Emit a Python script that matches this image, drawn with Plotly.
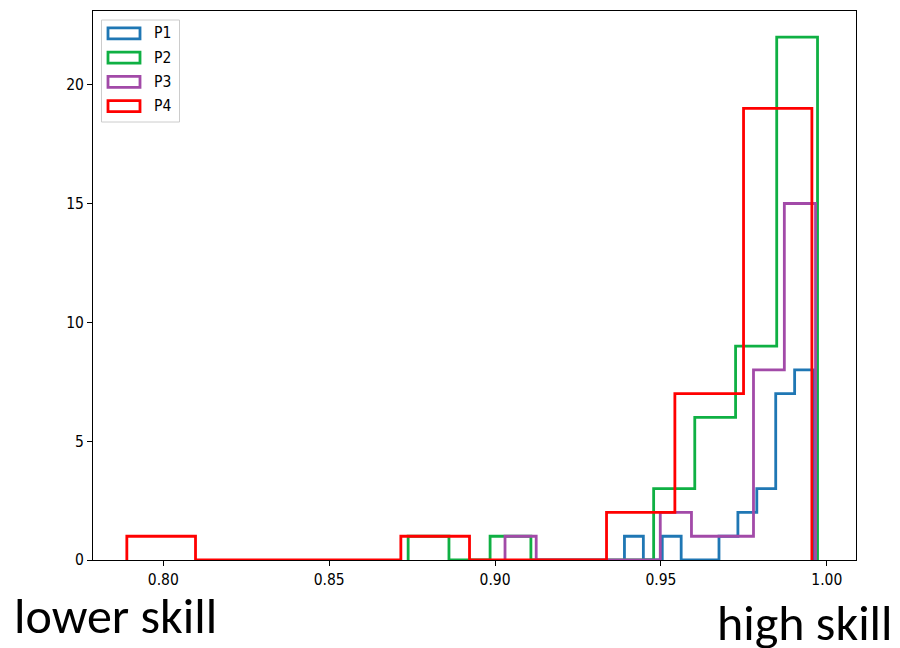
import numpy as np
import plotly.graph_objects as go

# bin edges and counts (10 bins each)
p1_edges = [0.9390, 0.9447, 0.9504, 0.9561, 0.9618, 0.9675, 0.9732, 0.9789, 0.9846, 0.9903, 0.9960]
p1_counts = [1, 0, 1, 0, 0, 1, 2, 3, 7, 8]

p2_edges = [0.8738, 0.8861, 0.8985, 0.9108, 0.9232, 0.9355, 0.9478, 0.9602, 0.9725, 0.9849, 0.9972]
p2_counts = [1, 0, 1, 0, 0, 0, 3, 6, 9, 22]

p3_edges = [0.9030, 0.9124, 0.9217, 0.9311, 0.9404, 0.9498, 0.9592, 0.9685, 0.9779, 0.9872, 0.9966]
p3_counts = [1, 0, 0, 0, 0, 2, 1, 1, 8, 15]

p4_edges = [0.7890, 0.8097, 0.8303, 0.8510, 0.8716, 0.8923, 0.9129, 0.9336, 0.9542, 0.9749, 0.9955]
p4_counts = [1, 0, 0, 0, 1, 0, 0, 2, 7, 19]

names = ["P1", "P2", "P3", "P4"]
colors = ["#1f77b4", "#0fb043", "#a24aa8", "#ff0000"]
x_ticks = [0.80, 0.85, 0.90, 0.95, 1.00]
y_ticks = [0, 5, 10, 15, 20]

W, H = 900, 648
L, R, T, B = 93, 44, 11, 88
TICK_FONT = dict(family="DejaVu Sans Condensed, DejaVu Sans", size=15.5, color="black")
SKILL_FONT = dict(family="Carlito, Lato, sans-serif", size=50, color="black")


def px_x(px):
    return (px - L) / (W - L - R)


def px_y(py):
    return (H - B - py) / (H - T - B)


def step_outline(edges, counts):
    xs = np.repeat(edges, 2)
    ys = np.concatenate([[0], np.repeat(counts, 2), [0]])
    return xs, ys


fig = go.Figure()
for name, color, edges, counts in zip(
    names, colors,
    [p1_edges, p2_edges, p3_edges, p4_edges],
    [p1_counts, p2_counts, p3_counts, p4_counts],
):
    xs, ys = step_outline(edges, counts)
    fig.add_trace(
        go.Scatter(x=xs, y=ys, name=name, mode="lines", showlegend=False,
                   line=dict(color=color, width=2.8))
    )

# matplotlib-style legend with outlined patches
fig.add_shape(type="rect", xref="paper", yref="paper",
              x0=px_x(101.5), x1=px_x(179.5), y0=px_y(122), y1=px_y(20),
              line=dict(color="#cccccc", width=1), fillcolor="rgba(255,255,255,0.8)")
for i, (name, color) in enumerate(zip(names, colors)):
    cy = 33.3 + i * 24.3
    fig.add_shape(type="rect", xref="paper", yref="paper",
                  x0=px_x(108), x1=px_x(140), y0=px_y(cy + 5.5), y1=px_y(cy - 5.5),
                  line=dict(color=color, width=2.8), fillcolor="rgba(0,0,0,0)")
    fig.add_annotation(text=name, xref="paper", yref="paper", x=px_x(152), y=px_y(cy),
                       xanchor="left", yanchor="middle", showarrow=False, font=TICK_FONT)

axis_style = dict(
    showgrid=False, zeroline=False, showline=True, linecolor="black", linewidth=1,
    mirror=True, ticks="outside", ticklen=5, tickcolor="black", tickfont=TICK_FONT,
)
fig.update_xaxes(range=[0.7788, 1.0088], tickvals=x_ticks,
                 ticktext=[f"{v:.2f}" for v in x_ticks], **axis_style)
fig.update_yaxes(range=[0, 23.1], tickvals=y_ticks, **axis_style)

fig.add_annotation(text="lower skill", xref="paper", yref="paper", x=px_x(12), y=px_y(615),
                   xanchor="left", yanchor="middle", showarrow=False, font=SKILL_FONT)
fig.add_annotation(text="high skill", xref="paper", yref="paper", x=px_x(895), y=px_y(622),
                   xanchor="right", yanchor="middle", showarrow=False, font=SKILL_FONT)

fig.update_layout(
    width=W, height=H,
    margin=dict(l=L, r=R, t=T, b=B),
    plot_bgcolor="white", paper_bgcolor="white",
    showlegend=False,
)
fig.write_html("out.html", config={"displayModeBar": False},
               post_script="document.body.style.margin='0';")
